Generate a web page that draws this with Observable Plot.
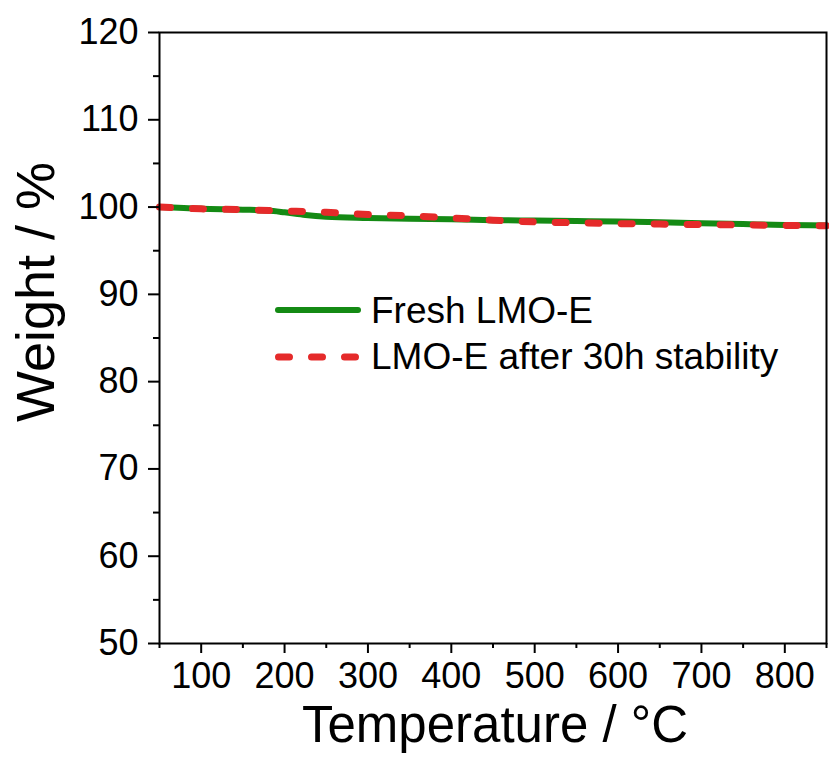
<!DOCTYPE html>
<html><head><meta charset="utf-8">
<script src="https://cdn.jsdelivr.net/npm/d3@7"></script>
<script src="https://cdn.jsdelivr.net/npm/@observablehq/plot@0.6"></script>
<style>body{margin:0;background:#fff;}</style>
</head><body><div id="chart"></div>
<script>
// Data
const freshT = [50, 100, 150, 180, 200, 225, 250, 300, 350, 400, 450, 500, 550, 600, 650, 700, 750, 800, 850];
const freshW = [100.0, 99.8, 99.7, 99.6, 99.4, 99.1, 98.9, 98.75, 98.65, 98.6, 98.5, 98.45, 98.4, 98.35, 98.25, 98.15, 98.05, 97.95, 97.9];
const agedT = [50, 100, 150, 200, 250, 300, 350, 400, 450, 500, 550, 600, 650, 700, 750, 800, 850];
const agedW = [100.0, 99.8, 99.7, 99.55, 99.4, 99.15, 99.0, 98.75, 98.5, 98.3, 98.2, 98.1, 98.05, 98.0, 97.95, 97.9, 97.85];
const seriesNames = ["Fresh LMO-E", "LMO-E after 30h stability"];
const xMajor = [100, 200, 300, 400, 500, 600, 700, 800];
const xMinor = [50, 150, 250, 350, 450, 550, 650, 750, 850];
const yMajor = [50, 60, 70, 80, 90, 100, 110, 120];
const yMinor = [55, 65, 75, 85, 95, 105, 115];
const xLabel = "Temperature / °C";
const yLabel = "Weight / %";

const fresh = freshT.map((t, i) => ({T: t, W: freshW[i]}));
const aged = agedT.map((t, i) => ({T: t, W: agedW[i]}));

const green = "#148a14";
const red = "#e52a2a";
const font = "'Liberation Sans', Arial, sans-serif";

const chart = Plot.plot({
  width: 829, height: 758,
  marginLeft: 159, marginTop: 32, marginRight: 3, marginBottom: 115,
  style: {fontFamily: font, fontSize: "36px", color: "#000", background: "#fff", overflow: "visible"},
  x: {domain: [50, 850]},
  y: {domain: [50, 120]},
  marks: [
    Plot.line(fresh, {x: "T", y: "W", stroke: green, strokeWidth: 6, curve: "monotone-x"}),
    Plot.line(aged, {x: "T", y: "W", stroke: red, strokeWidth: 7, strokeDasharray: "11,22", strokeLinecap: "round", curve: "monotone-x"}),
    Plot.axisX({ticks: xMinor, tickSize: 5, tickFormat: () => "", label: null, strokeWidth: 2}),
    Plot.axisX({ticks: xMajor, tickSize: 10, tickPadding: 9, label: null, strokeWidth: 2, tickFormat: d => String(d)}),
    Plot.axisY({ticks: yMinor, tickSize: 6, tickFormat: () => "", label: null, strokeWidth: 2}),
    Plot.axisY({ticks: yMajor, tickSize: 11, tickPadding: 10, label: null, strokeWidth: 2, tickFormat: d => String(d)}),
    Plot.frame({stroke: "#000", strokeWidth: 2})
  ]
});

const svg = d3.select(chart);
svg.append("text")
  .attr("transform", "translate(54,292) rotate(-90)")
  .attr("text-anchor", "middle")
  .style("font-family", font).style("font-size", "54px").attr("fill", "#000")
  .text(yLabel);
svg.append("text")
  .attr("x", 495).attr("y", 742)
  .attr("text-anchor", "middle")
  .style("font-family", font).style("font-size", "51px").attr("fill", "#000")
  .text(xLabel);

// Legend
const leg = svg.append("g").attr("text-anchor", "start");
leg.append("line").attr("x1", 278).attr("x2", 358).attr("y1", 310).attr("y2", 310)
  .attr("stroke", green).attr("stroke-width", 6).attr("stroke-linecap", "round");
leg.append("line").attr("x1", 278.5).attr("x2", 356.5).attr("y1", 357).attr("y2", 357)
  .attr("stroke", red).attr("stroke-width", 7).attr("stroke-linecap", "round").attr("stroke-dasharray", "11,22");
leg.append("text").attr("x", 371).attr("y", 323).attr("text-anchor", "start")
  .style("font-family", font).style("font-size", "37px").attr("fill", "#000").text(seriesNames[0]);
leg.append("text").attr("x", 371).attr("y", 369).attr("text-anchor", "start")
  .style("font-family", font).style("font-size", "37px").attr("fill", "#000").text(seriesNames[1]);

document.getElementById("chart").appendChild(chart);
</script>
</body></html>
